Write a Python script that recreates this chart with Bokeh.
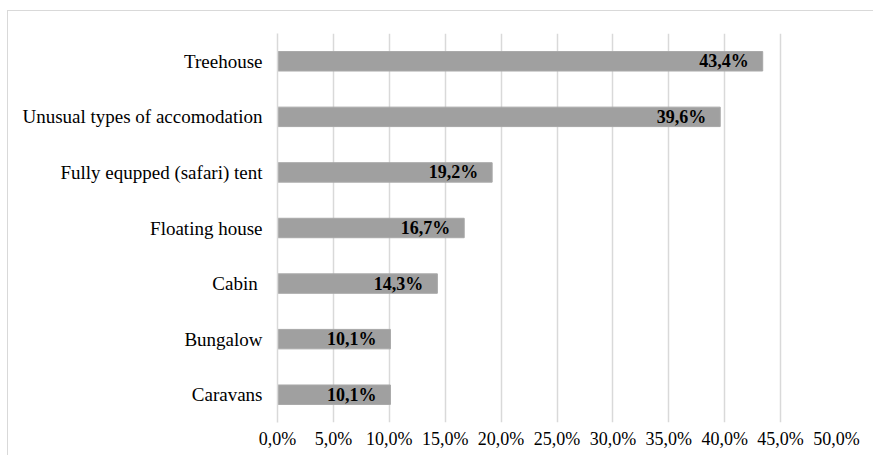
from bokeh.plotting import figure
from bokeh.models import FactorRange, Range1d, FixedTicker, CustomJSTickFormatter, ColumnDataSource
from bokeh.core.properties import value
from bokeh.embed import file_html
from bokeh.resources import INLINE

categories = ["Treehouse", "Unusual types of accomodation", "Fully equpped (safari) tent",
              "Floating house", "Cabin ", "Bungalow", "Caravans"]
shares = [43.4, 39.6, 19.2, 16.7, 14.3, 10.1, 10.1]
x_ticks = [0, 5, 10, 15, 20, 25, 30, 35, 40, 45, 50]

labels = [f"{v:.1f}".replace(".", ",") + "%" for v in shares]
src = ColumnDataSource(dict(cat=categories, val=shares, lab=labels))

FONT = "Liberation Serif"

p = figure(width=866, height=445, output_backend="svg", toolbar_location=None,
           y_range=FactorRange(*reversed(categories), range_padding=0),
           x_range=Range1d(0, 50),
           min_border_left=269, min_border_right=38, min_border_top=22, min_border_bottom=34)
p.styles = {"margin-left": "7px", "margin-top": "10px",
            "border-left": "1px solid #d9d9d9", "border-top": "1px solid #d9d9d9"}
p.outline_line_color = None

p.hbar(y="cat", right="val", left=0, height=0.35, source=src,
       fill_color="#a0a0a0", line_color="#a8a8a8", line_width=1)
p.text(x="val", y="cat", text="lab", source=src, x_offset=-14,
       text_align="right", text_baseline="middle",
       text_font=value(FONT), text_font_style="bold", text_font_size="18px", text_color="#000000")

p.xaxis.ticker = FixedTicker(ticks=x_ticks)
p.xaxis.formatter = CustomJSTickFormatter(code="return tick.toFixed(1).replace('.', ',') + '%';")
p.xaxis.axis_line_color = None
p.xaxis.major_tick_line_color = None
p.xaxis.minor_tick_line_color = None
p.xaxis.major_label_text_font = FONT
p.xaxis.major_label_text_font_size = "18px"
p.xaxis.major_label_text_color = "#000000"
p.xaxis.major_label_standoff = 0

p.yaxis.axis_line_color = "#d9d9d9"
p.yaxis.axis_line_width = 1.5
p.yaxis.major_tick_line_color = None
p.yaxis.minor_tick_line_color = None
p.yaxis.major_label_text_font = FONT
p.yaxis.major_label_text_font_size = "19px"
p.yaxis.major_label_text_color = "#000000"
p.yaxis.major_label_standoff = 9

p.xgrid.grid_line_color = "#d9d9d9"
p.xgrid.grid_line_width = 1.5
p.ygrid.grid_line_color = None

open("out.html", "w").write(file_html(p, INLINE))
